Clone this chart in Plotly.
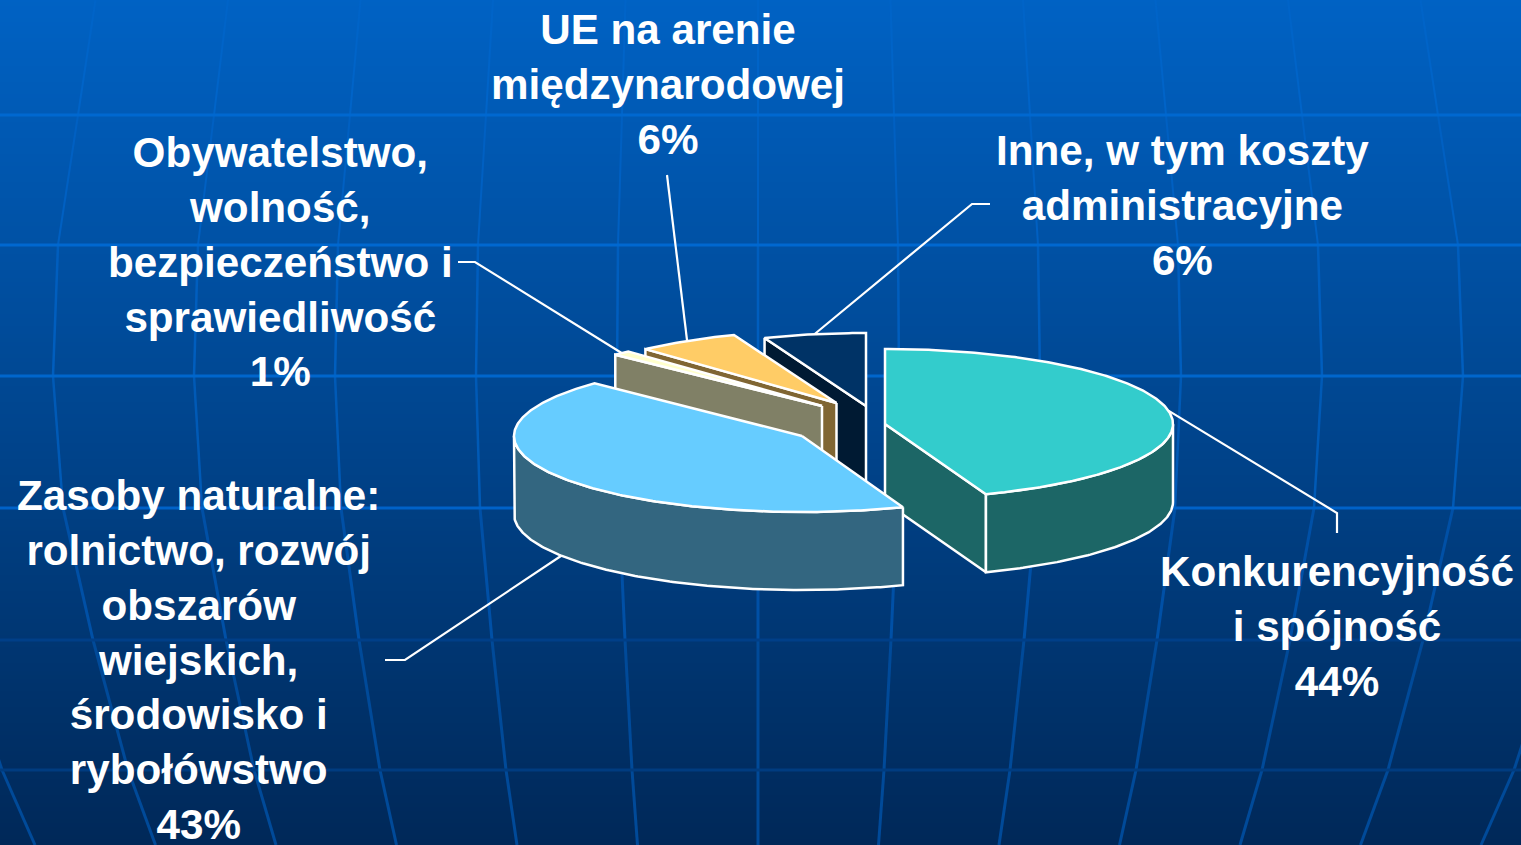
import numpy as np
import plotly.graph_objects as go

# ---- data -------------------------------------------------------------
categories = ["Konkurencyjność\ni spójność", "Zasoby naturalne:\nrolnictwo, rozwój\nobszarów\nwiejskich,\nśrodowisko i\nrybołówstwo",
              "Obywatelstwo,\nwolność,\nbezpieczeństwo i\nsprawiedliwość", "UE na arenie\nmiędzynarodowej",
              "Inne, w tym koszty\nadministracyjne"]
shares = [44.3, 42.9, 1.0, 5.9, 5.9]

# ---- styles and layout -------------------------------------------------
top_colors = ["#33CCCC", "#66CCFF", "#FFFFCC", "#FFCC66", "#003366"]
wall_colors = ["#1C6666", "#336680", "#808066", "#806633", "#001A33"]
centers = [(885, 424), (802, 436), (822, 406), (836.5, 403), (866, 406)]
radii = [(288, 75), (288, 76), (287, 74), (283, 73), (280, 73)]
depth = 78
draw_order = [0, 4, 3, 2, 1]
label_pos = [(1337, 546), (198, 470), (280, 127), (668, 4), (1182, 125)]
elbows = [[(1337, 513), (1337, 533)], [(405, 660), (385, 660)], [(475, 262), (458, 262)],
          [(667, 175)], [(972, 204), (990, 204)]]
label_anchor_wall = [False, True, False, False, False]
W, H = 1521, 845

# background pieces
grad_top, grad_bot = (0, 98, 196), (0, 40, 88)
h_y = [115, 245, 376, 508, 640, 770]
h_col = ["#0068D0", "#0068D0", "#0066CC", "#0062C8", "#003F88", "#003C80"]
mer_y = [0, 115, 245, 376, 508, 640, 770, 845]
mer_s = [132.5, 136, 140, 141, 139, 133, 126, 120.5]
mer_col = ["#0064C8", "#0060C2", "#005EBE", "#005AB6", "#0050A6", "#004A99", "#004A99"]
mer_w = [2, 2, 2.5, 2.5, 3, 3, 3]
mer_cx = 758

fig = go.Figure()

rows = np.linspace(0, 1, 212)
fig.add_trace(go.Heatmap(
    z=[[v, v] for v in rows], x=[0, W], y=np.linspace(0, H, 212),
    colorscale=[[0, "rgb(%d,%d,%d)" % grad_top], [1, "rgb(%d,%d,%d)" % grad_bot]],
    showscale=False, hoverinfo="skip"))

for i in range(len(mer_col)):
    xs, ys = [], []
    for k in range(-6, 7):
        xs += [mer_cx + k * mer_s[i], mer_cx + k * mer_s[i + 1], None]
        ys += [mer_y[i], mer_y[i + 1], None]
    fig.add_trace(go.Scatter(x=xs, y=ys, mode="lines", line=dict(color=mer_col[i], width=mer_w[i]),
                             hoverinfo="skip", showlegend=False))
for y, c in zip(h_y, h_col):
    fig.add_trace(go.Scatter(x=[0, W], y=[y, y], mode="lines", line=dict(color=c, width=3),
                             hoverinfo="skip", showlegend=False))

# angles derived from the shares, clockwise from 12 o'clock
edges = np.cumsum([0] + shares) / sum(shares) * 360.0


def pt(i, deg):
    a = np.radians(deg)
    cx, cy = centers[i]
    rx, ry = radii[i]
    return cx + rx * np.sin(a), cy - ry * np.cos(a)


def arc(i, a0, a1, drop=0):
    n = max(2, int(abs(a1 - a0) * 1.5))
    xs, ys = zip(*[pt(i, d) for d in np.linspace(a0, a1, n)])
    return list(xs), [y + drop for y in ys]


def poly(xs, ys, fill):
    fig.add_trace(go.Scatter(x=list(xs) + [xs[0]], y=list(ys) + [ys[0]], mode="lines", fill="toself",
                             fillcolor=fill, line=dict(color="white", width=2.5),
                             hoverinfo="skip", showlegend=False))


# leader lines
for i in range(len(shares)):
    mid = (edges[i] + edges[i + 1]) / 2
    x0, y0 = pt(i, mid)
    if label_anchor_wall[i]:
        y0 += depth
    lx = [x0] + [p[0] for p in elbows[i]]
    ly = [y0] + [p[1] for p in elbows[i]]
    fig.add_trace(go.Scatter(x=lx, y=ly, mode="lines", line=dict(color="white", width=2.2),
                             hoverinfo="skip", showlegend=False))

# slices
for i in draw_order:
    a0, a1 = edges[i], edges[i + 1]
    cx, cy = centers[i]
    # radial walls that face the viewer
    if np.cos(np.radians(a0 - 90)) < -1e-6:
        x, y = pt(i, a0)
        poly([cx, x, x, cx], [cy, y, y + depth, cy + depth], wall_colors[i])
    if np.cos(np.radians(a1 + 90)) < -1e-6:
        x, y = pt(i, a1)
        poly([cx, x, x, cx], [cy, y, y + depth, cy + depth], wall_colors[i])
    # outer wall on the front half
    f0, f1 = max(a0, 90), min(a1, 270)
    if f1 > f0:
        xt, yt = arc(i, f0, f1)
        xb, yb = arc(i, f1, f0, depth)
        poly(xt + xb, yt + yb, wall_colors[i])
    # top face
    xt, yt = arc(i, a0, a1)
    poly([cx] + xt, [cy] + yt, top_colors[i])

# labels
for i, (name, s) in enumerate(zip(categories, shares)):
    lines = name.split("\n") + ["%d%%" % round(s)]
    txt = "<br>".join("<b>%s</b>" % t for t in lines)
    fig.add_annotation(x=label_pos[i][0], y=label_pos[i][1], text=txt, showarrow=False,
                       xanchor="center", yanchor="top", align="center",
                       font=dict(family="Liberation Sans, Arial, sans-serif", size=42.2, color="white"),
                       xref="x", yref="y")

fig.update_layout(
    width=W, height=H, margin=dict(l=0, r=0, t=0, b=0), autosize=False,
    paper_bgcolor="#003F80", plot_bgcolor="#003F80", showlegend=False,
    xaxis=dict(range=[0, W], visible=False, fixedrange=True),
    yaxis=dict(range=[H, 0], visible=False, fixedrange=True),
)
fig.write_html("out.html", config={"displayModeBar": False},
               post_script="document.body.style.margin='0';document.body.style.overflow='hidden';")
